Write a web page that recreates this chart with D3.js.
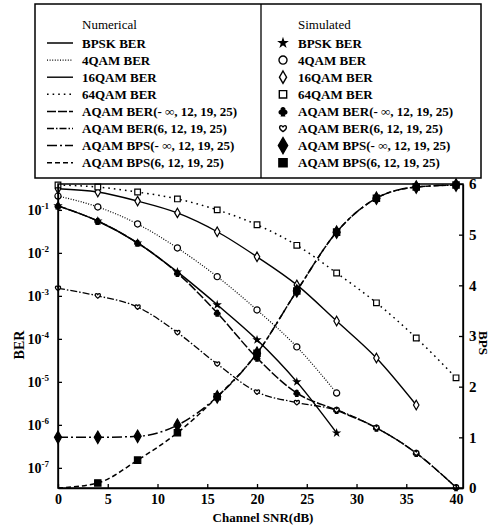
<!DOCTYPE html>
<html>
<head>
<meta charset="utf-8">
<script src="https://cdn.jsdelivr.net/npm/d3@7"></script>
<style>
  body { margin: 0; background: #fff; }
  svg text { font-family: "Liberation Serif", "DejaVu Serif", serif !important; font-weight: bold; fill: #000; }
  .axis path, .axis line { stroke: #000; stroke-width: 1.3; }
</style>
</head>
<body>
<div id="chart"></div>
<script>
// data (BER on log axis, BPS on right axis)
var snr = [0, 4, 8, 12, 16, 20, 24, 28, 32, 36, 40];

var berBPSK  = [0.124, 0.055, 0.017, 3.6e-3, 6.2e-4, 9.5e-5, 1.0e-5, 6.5e-7];
var ber4QAM  = [0.21, 0.117, 0.047, 0.013, 2.8e-3, 4.7e-4, 6.5e-5, 5.5e-6];
var ber16QAM = [0.31, 0.26, 0.16, 0.085, 0.031, 8.1e-3, 1.8e-3, 2.6e-4, 3.6e-5, 2.9e-6];
var ber64QAM = [0.38, 0.34, 0.26, 0.18, 0.10, 0.045, 0.015, 3.4e-3, 6.9e-4, 1.05e-4, 1.24e-5];
var berAqamInf = [0.124, 0.055, 0.017, 3.4e-3, 4.0e-4, 3.6e-5, 5.5e-6, 2.2e-6, 8.5e-7, 2.2e-7, 3.5e-8];
var berAqam6   = [1.5e-3, 1.0e-3, 5.5e-4, 1.4e-4, 2.6e-5, 5.8e-6, 3.3e-6, 2.2e-6, 8.5e-7, 2.2e-7, 3.5e-8];
var bpsAqamInf = [1.0, 1.0, 1.02, 1.24, 1.80, 2.66, 3.89, 5.05, 5.72, 5.94, 5.98];
var bpsAqam6   = [0, 0.10, 0.55, 1.09, 1.80, 2.66, 3.89, 5.05, 5.72, 5.94, 5.98];

var berTicks = [1e-1, 1e-2, 1e-3, 1e-4, 1e-5, 1e-6, 1e-7];
var xTicks = [0, 5, 10, 15, 20, 25, 30, 35, 40];
var bpsTicks = [0, 1, 2, 3, 4, 5, 6];

var labels = ["BPSK BER", "4QAM BER", "16QAM BER", "64QAM BER",
  "AQAM BER(- \u221e, 12, 19, 25)", "AQAM BER(6, 12, 19, 25)",
  "AQAM BPS(- \u221e, 12, 19, 25)", "AQAM BPS(6, 12, 19, 25)"];

var width = 491, height = 526;
var plot = {left: 58, right: 463, top: 184, bottom: 488};
var serif = "'Liberation Serif', 'DejaVu Serif', serif";

var svg = d3.select("#chart").append("svg")
    .attr("width", width)
    .attr("height", height)
    .attr("font-family", serif);

var x = d3.scaleLinear().domain([0, 40.7]).range([plot.left, plot.right]);
var y = d3.scaleLog().domain([3.4e-8, 0.40]).range([plot.bottom, plot.top]);
var y2 = d3.scaleLinear().domain([0, 6]).range([plot.bottom, plot.top]);

// custom marker shapes
var club = {
  draw: function(ctx, size) {
    var r = Math.sqrt(size) / 4.2;
    [[0, -r * 1.05], [-r * 1.05, r * 0.45], [r * 1.05, r * 0.45]].forEach(function(c) {
      ctx.moveTo(c[0] + r, c[1]);
      ctx.arc(c[0], c[1], r, 0, 2 * Math.PI);
    });
    ctx.moveTo(0, 0);
    ctx.lineTo(-r * 0.8, r * 2.3);
    ctx.lineTo(r * 0.8, r * 2.3);
    ctx.closePath();
  }
};
var heart = {
  draw: function(ctx, size) {
    var s = Math.sqrt(size) / 2;
    ctx.moveTo(0, s * 0.85);
    ctx.bezierCurveTo(-s * 1.7, -s * 0.2, -s * 0.7, -s * 1.45, 0, -s * 0.45);
    ctx.bezierCurveTo(s * 0.7, -s * 1.45, s * 1.7, -s * 0.2, 0, s * 0.85);
    ctx.closePath();
  }
};

var series = [
  {values: berBPSK, axis: y, dash: null, width: 1.5, sym: d3.symbolStar, size: 10, fill: "#000"},
  {values: ber4QAM, axis: y, dash: "1,1.6", width: 1.2, sym: d3.symbolCircle, size: 30, fill: "#fff"},
  {values: ber16QAM, axis: y, dash: null, width: 1.4, sym: d3.symbolDiamond, size: 26, fill: "#fff"},
  {values: ber64QAM, axis: y, dash: "1.6,4", width: 1.5, sym: d3.symbolSquare, size: 32, fill: "#fff"},
  {values: berAqamInf, axis: y, dash: "9,2", width: 1.5, sym: club, size: 36, fill: "#000"},
  {values: berAqam6, axis: y, dash: "7,2,1.5,2", width: 1.3, sym: heart, size: 30, fill: "#fff"},
  {values: bpsAqamInf, axis: y2, dash: "10,3,2,3", width: 1.5, sym: d3.symbolDiamond, size: 44, fill: "#000"},
  {values: bpsAqam6, axis: y2, dash: "5,3", width: 1.5, sym: d3.symbolSquare, size: 40, fill: "#000"}
];

var line = function(scale) {
  return d3.line()
    .x(function(d) { return x(d.x); })
    .y(function(d) { return scale(d.v); })
    .curve(d3.curveMonotoneX);
};

series.forEach(function(s) {
  var pts = s.values.map(function(v, i) { return {x: snr[i], v: v}; });
  svg.append("path")
      .datum(pts)
      .attr("d", line(s.axis))
      .attr("fill", "none")
      .attr("stroke", "#000")
      .attr("stroke-width", s.width)
      .attr("stroke-dasharray", s.dash);

  svg.append("g").selectAll("path")
    .data(pts.filter(function(d) { return d.v > 0; }))
    .enter().append("path")
      .attr("transform", function(d) { return "translate(" + x(d.x) + "," + s.axis(d.v) + ")"; })
      .attr("d", d3.symbol().type(s.sym).size(s.size))
      .attr("fill", s.fill)
      .attr("stroke", "#000")
      .attr("stroke-width", 1.2);
});

// frame
svg.append("rect")
    .attr("x", plot.left).attr("y", plot.top)
    .attr("width", plot.right - plot.left)
    .attr("height", plot.bottom - plot.top)
    .attr("fill", "none")
    .attr("stroke", "#000")
    .attr("stroke-width", 1.5);

// axes
var xAxis = svg.append("g")
    .attr("class", "axis")
    .attr("transform", "translate(0," + plot.bottom + ")")
    .call(d3.axisBottom(x).tickValues(xTicks).tickSizeInner(-4).tickSizeOuter(0).tickPadding(6));
xAxis.attr("font-family", serif);
xAxis.selectAll("text").attr("font-size", 14);

var yAxis = svg.append("g")
    .attr("class", "axis")
    .attr("transform", "translate(" + plot.left + ",0)")
    .call(d3.axisLeft(y).tickValues(berTicks).tickSizeInner(-4).tickSizeOuter(0).tickPadding(9)
      .tickFormat(function() { return ""; }));
yAxis.attr("font-family", serif);
yAxis.selectAll(".tick text")
    .attr("font-size", 14)
    .each(function(d) {
      var t = d3.select(this);
      t.append("tspan").text("10");
      t.append("tspan").attr("font-size", 9).attr("dy", -6).text(String(Math.round(Math.log10(d))));
    });

var y2Axis = svg.append("g")
    .attr("class", "axis")
    .attr("transform", "translate(" + plot.right + ",0)")
    .call(d3.axisRight(y2).tickValues(bpsTicks).tickFormat(d3.format("d"))
      .tickSizeInner(-4).tickSizeOuter(0).tickPadding(6));
y2Axis.attr("font-family", serif);
y2Axis.selectAll("text").attr("font-size", 15);

svg.append("text")
    .attr("transform", "translate(24,345) rotate(-90)")
    .attr("text-anchor", "middle")
    .attr("font-size", 14)
    .text("BER");

svg.append("text")
    .attr("transform", "translate(479,343) rotate(90)")
    .attr("text-anchor", "middle")
    .attr("font-size", 13)
    .text("BPS");

svg.append("text")
    .attr("x", 263).attr("y", 522)
    .attr("text-anchor", "middle")
    .attr("font-size", 13)
    .text("Channel SNR(dB)");

// legend
var lg = svg.append("g").attr("font-size", 13);
lg.append("rect")
    .attr("x", 35).attr("y", 4)
    .attr("width", 446).attr("height", 174)
    .attr("fill", "#fff")
    .attr("stroke", "#000")
    .attr("stroke-width", 1.5);
lg.append("line")
    .attr("x1", 261).attr("x2", 261)
    .attr("y1", 4).attr("y2", 178)
    .attr("stroke", "#000")
    .attr("stroke-width", 1.3);

lg.append("text").attr("x", 82).attr("y", 29).style("font-weight", "normal").text("Numerical");
lg.append("text").attr("x", 298).attr("y", 29).style("font-weight", "normal").text("Simulated");

var rows = lg.selectAll("g.row")
    .data(series)
    .enter().append("g")
      .attr("class", "row")
      .attr("transform", function(d, i) { return "translate(0," + (43 + i * 17.1) + ")"; });

rows.append("line")
    .attr("x1", 47).attr("x2", 73)
    .attr("stroke", "#000")
    .attr("stroke-width", function(d) { return d.width; })
    .attr("stroke-dasharray", function(d) { return d.dash; });

rows.append("text")
    .attr("x", 82).attr("dy", "0.35em")
    .text(function(d, i) { return labels[i]; });

rows.append("path")
    .attr("transform", "translate(283,0)")
    .attr("d", function(d) { return d3.symbol().type(d.sym).size(d.size * 1.7)(); })
    .attr("fill", function(d) { return d.fill; })
    .attr("stroke", "#000")
    .attr("stroke-width", 1.4);

rows.append("text")
    .attr("x", 298).attr("dy", "0.35em")
    .text(function(d, i) { return labels[i]; });
</script>
</body>
</html>
